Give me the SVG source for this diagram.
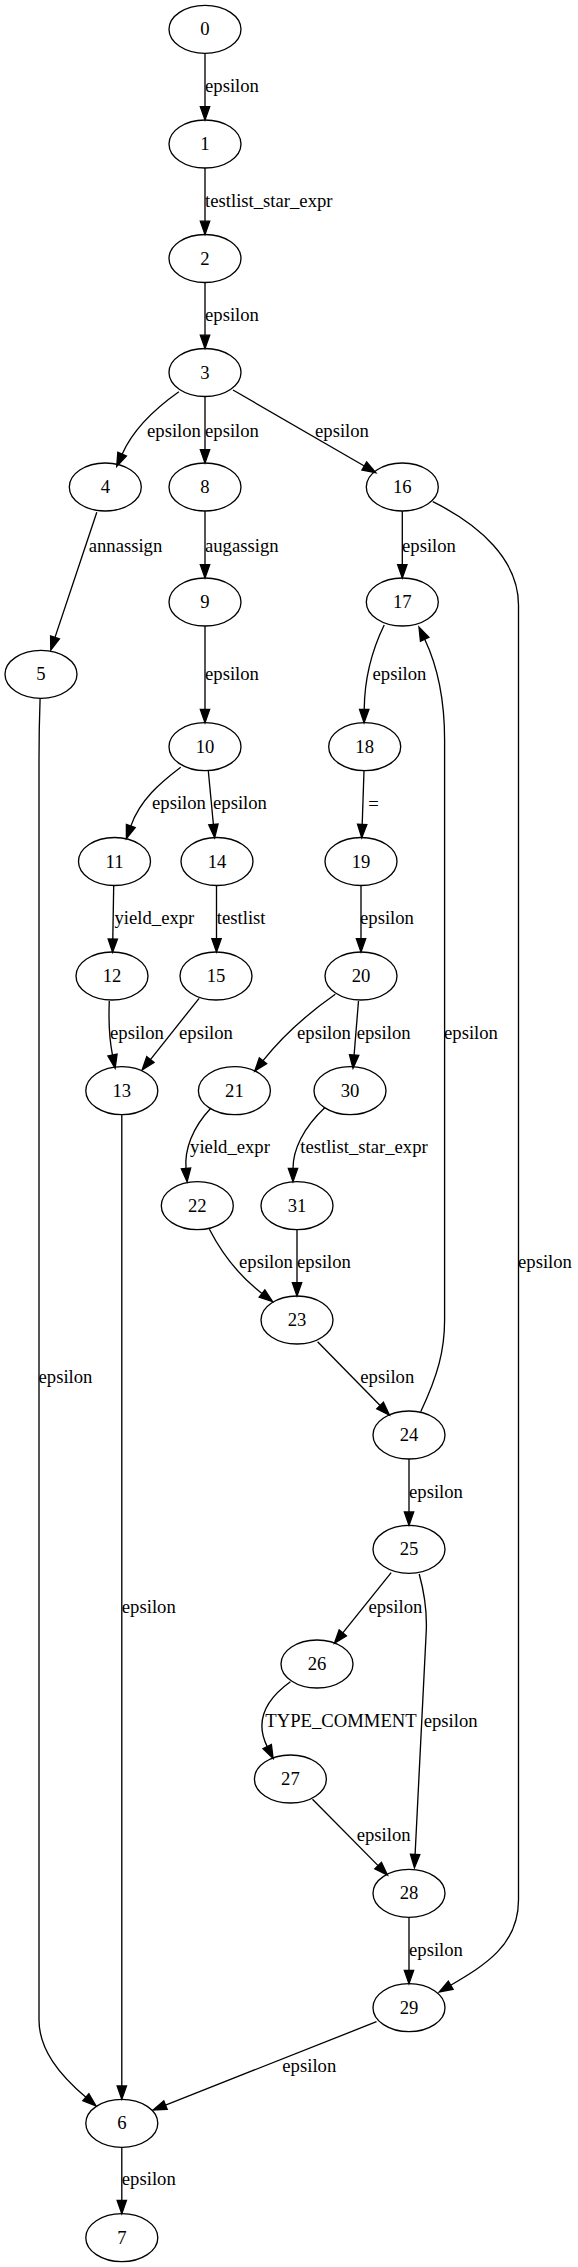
<svg xmlns="http://www.w3.org/2000/svg" width="578" height="2267" viewBox="0 0 578 2267">
<style>
.n ellipse{fill:none;stroke:#000;stroke-width:1.33}
.n text{font-family:"Liberation Serif","Times New Roman",serif;font-size:18.67px;text-anchor:middle;fill:#000}
#edges path{fill:none;stroke:#000;stroke-width:1.33;marker-end:url(#ah)}
#edges text{font-family:"Liberation Serif","Times New Roman",serif;font-size:18.67px;text-anchor:middle;fill:#000}
</style>
<defs>
<marker id="ah" markerUnits="userSpaceOnUse" markerWidth="14" markerHeight="10" refX="0" refY="4.67" orient="auto" overflow="visible">
<path d="M0,0 L13.33,4.67 L0,9.33 Z" fill="#000" stroke="#000" stroke-width="1.33"/>
</marker>
</defs>
<rect width="578" height="2267" fill="#fff"/>
<g id="edges">
<path d="M205,53.3 V106.7"/><text x="232" y="92.3">epsilon</text>
<path d="M205,168 V221.2"/><text x="268.8" y="207.3">testlist_star_expr</text>
<path d="M205,282.5 V335.2"/><text x="232" y="321">epsilon</text>
<path d="M178.9,391.7 C160,405 135,425 122.1,454.2"/><text x="174" y="436.7">epsilon</text>
<path d="M205,396.5 V449.7"/><text x="232" y="436.7">epsilon</text>
<path d="M233,390 L364.3,466"/><text x="342" y="436.7">epsilon</text>
<path d="M96.8,512.3 L55,637.4"/><text x="125.5" y="551.7">annassign</text>
<path d="M205,511 V564.7"/><text x="241.8" y="551.7">augassign</text>
<path d="M402.3,511 V564.7"/><text x="429" y="551.7">epsilon</text>
<path d="M432.8,501.7 C480,525 518.5,560 518.5,605 L518.5,1900 C518.5,1945 485,1965 450.7,1985.2"/><text x="545" y="1268.3">epsilon</text>
<path d="M384.2,625 C372,650 364.5,680 364.2,709.4"/><text x="399.5" y="680">epsilon</text>
<path d="M420.7,1411.7 C438,1375 444.6,1350 444.6,1320 L444.6,740 C444.6,695 437,665 424.7,639.2"/><text x="471" y="1039.3">epsilon</text>
<path d="M205,626 V709.4"/><text x="232" y="680">epsilon</text>
<path d="M40.1,698.3 C39.3,720 39,740 39,760 L39,2020 C39,2050 60,2075 85.9,2097.3"/><text x="65.5" y="1383.3">epsilon</text>
<path d="M180.7,767.3 C160,783 140,800 130.8,826.1"/><text x="179" y="809">epsilon</text>
<path d="M208.3,770.7 L213.4,824.5"/><text x="240" y="809">epsilon</text>
<path d="M364,770.7 L362.2,824.4"/><text x="373.5" y="810">=</text>
<path d="M113.7,885.7 L112.8,939"/><text x="154.4" y="924.3">yield_expr</text>
<path d="M216.5,885.7 V938.7"/><text x="241.2" y="924.3">testlist</text>
<path d="M361,885.7 V938.7"/><text x="387" y="924.3">epsilon</text>
<path d="M109.3,1001 C108.5,1020 109.5,1040 112.5,1055.1"/><text x="137" y="1039.3">epsilon</text>
<path d="M199.1,998.3 L150.4,1059.6"/><text x="206" y="1039.3">epsilon</text>
<path d="M335.3,994.3 C310,1012 285,1033 263,1060.7"/><text x="324" y="1039.3">epsilon</text>
<path d="M358.5,1001 L354.1,1055"/><text x="383.6" y="1039.3">epsilon</text>
<path d="M211,1108 C192,1128 184.5,1150 186,1168.4"/><text x="230" y="1153.3">yield_expr</text>
<path d="M325,1107.5 C303,1128 293,1150 293,1168.4"/><text x="364" y="1153.3">testlist_star_expr</text>
<path d="M209.4,1229.3 C220,1250 238,1275 262,1293.5"/><text x="266" y="1268.3">epsilon</text>
<path d="M297,1229.7 V1282.7"/><text x="324" y="1268.3">epsilon</text>
<path d="M317.6,1341.7 L380.1,1405.5"/><text x="387.3" y="1383.3">epsilon</text>
<path d="M409,1459 V1512"/><text x="436" y="1497.7">epsilon</text>
<path d="M391.2,1572.7 L342.8,1632.9"/><text x="395.4" y="1612.7">epsilon</text>
<path d="M419.2,1574 C425,1595 427,1610 426.3,1630 L415.1,1854.4"/><text x="450.6" y="1727.3">epsilon</text>
<path d="M290.4,1681.7 C265,1700 255,1722 267.2,1746.6"/><text x="341" y="1727.3">TYPE_COMMENT</text>
<path d="M312.5,1799.3 L378.1,1865.6"/><text x="383.6" y="1841">epsilon</text>
<path d="M409,1917.3 V1970.4"/><text x="436" y="1956">epsilon</text>
<path d="M376.5,2021.7 L165.5,2105.1"/><text x="309.3" y="2071.7">epsilon</text>
<path d="M121.8,1114.7 V2086"/><text x="148.8" y="1612.7">epsilon</text>
<path d="M121.8,2147.3 V2200.4"/><text x="148.8" y="2185">epsilon</text>
</g>
<g id="node0" class="n"><ellipse cx="205" cy="29.3" rx="36" ry="24"/><text x="205" y="35.3">0</text></g>
<g id="node1" class="n"><ellipse cx="205" cy="144" rx="36" ry="24"/><text x="205" y="150">1</text></g>
<g id="node2" class="n"><ellipse cx="205" cy="258.5" rx="36" ry="24"/><text x="205" y="264.5">2</text></g>
<g id="node3" class="n"><ellipse cx="205" cy="372.5" rx="36" ry="24"/><text x="205" y="378.5">3</text></g>
<g id="node4" class="n"><ellipse cx="105.3" cy="487" rx="36" ry="24"/><text x="105.3" y="493">4</text></g>
<g id="node8" class="n"><ellipse cx="205" cy="487" rx="36" ry="24"/><text x="205" y="493">8</text></g>
<g id="node16" class="n"><ellipse cx="402.3" cy="487" rx="36" ry="24"/><text x="402.3" y="493">16</text></g>
<g id="node9" class="n"><ellipse cx="205" cy="602" rx="36" ry="24"/><text x="205" y="608">9</text></g>
<g id="node17" class="n"><ellipse cx="402.3" cy="602" rx="36" ry="24"/><text x="402.3" y="608">17</text></g>
<g id="node5" class="n"><ellipse cx="41" cy="674.3" rx="36" ry="24"/><text x="41" y="680.3">5</text></g>
<g id="node10" class="n"><ellipse cx="205" cy="746.7" rx="36" ry="24"/><text x="205" y="752.7">10</text></g>
<g id="node18" class="n"><ellipse cx="364.7" cy="746.7" rx="36" ry="24"/><text x="364.7" y="752.7">18</text></g>
<g id="node11" class="n"><ellipse cx="114.5" cy="861.5" rx="36" ry="24"/><text x="114.5" y="867.5">11</text></g>
<g id="node14" class="n"><ellipse cx="217" cy="861.5" rx="36" ry="24"/><text x="217" y="867.5">14</text></g>
<g id="node19" class="n"><ellipse cx="361" cy="861.5" rx="36" ry="24"/><text x="361" y="867.5">19</text></g>
<g id="node12" class="n"><ellipse cx="112" cy="976" rx="36" ry="24"/><text x="112" y="982">12</text></g>
<g id="node15" class="n"><ellipse cx="216" cy="976" rx="36" ry="24"/><text x="216" y="982">15</text></g>
<g id="node20" class="n"><ellipse cx="361" cy="976" rx="36" ry="24"/><text x="361" y="982">20</text></g>
<g id="node13" class="n"><ellipse cx="121.8" cy="1090.7" rx="36" ry="24"/><text x="121.8" y="1096.7">13</text></g>
<g id="node21" class="n"><ellipse cx="234.4" cy="1090.7" rx="36" ry="24"/><text x="234.4" y="1096.7">21</text></g>
<g id="node30" class="n"><ellipse cx="350" cy="1090.7" rx="36" ry="24"/><text x="350" y="1096.7">30</text></g>
<g id="node22" class="n"><ellipse cx="197.3" cy="1205.7" rx="36" ry="24"/><text x="197.3" y="1211.7">22</text></g>
<g id="node31" class="n"><ellipse cx="297" cy="1205.7" rx="36" ry="24"/><text x="297" y="1211.7">31</text></g>
<g id="node23" class="n"><ellipse cx="297" cy="1320" rx="36" ry="24"/><text x="297" y="1326">23</text></g>
<g id="node24" class="n"><ellipse cx="409" cy="1435" rx="36" ry="24"/><text x="409" y="1441">24</text></g>
<g id="node25" class="n"><ellipse cx="409" cy="1549.3" rx="36" ry="24"/><text x="409" y="1555.3">25</text></g>
<g id="node26" class="n"><ellipse cx="317" cy="1664" rx="36" ry="24"/><text x="317" y="1670">26</text></g>
<g id="node27" class="n"><ellipse cx="290.4" cy="1779" rx="36" ry="24"/><text x="290.4" y="1785">27</text></g>
<g id="node28" class="n"><ellipse cx="409" cy="1893.3" rx="36" ry="24"/><text x="409" y="1899.3">28</text></g>
<g id="node29" class="n"><ellipse cx="409" cy="2007.7" rx="36" ry="24"/><text x="409" y="2013.7">29</text></g>
<g id="node6" class="n"><ellipse cx="121.8" cy="2123.3" rx="36" ry="24"/><text x="121.8" y="2129.3">6</text></g>
<g id="node7" class="n"><ellipse cx="121.8" cy="2237.7" rx="36" ry="24"/><text x="121.8" y="2243.7">7</text></g>
</svg>
